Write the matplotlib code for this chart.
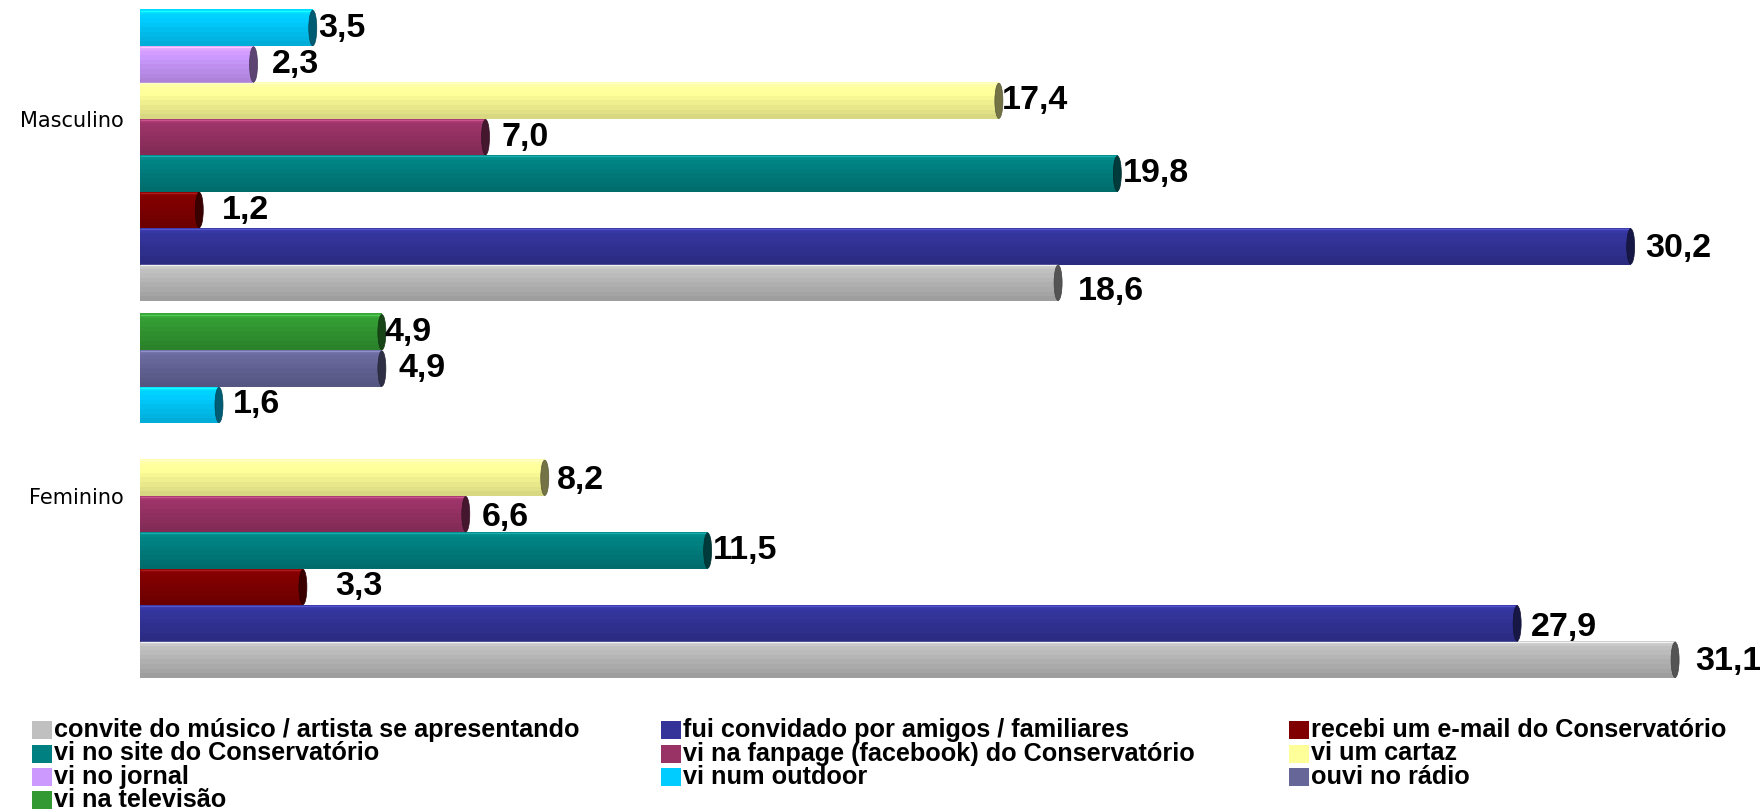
import numpy as np
import matplotlib
matplotlib.use("Agg")
import matplotlib.pyplot as plt
from matplotlib.patches import Ellipse, Rectangle
from matplotlib.colors import to_rgb

# ---------------- data ----------------
categories = ["Feminino", "Masculino"]
series = [
    "convite do músico / artista se apresentando",
    "fui convidado por amigos / familiares",
    "recebi um e-mail do Conservatório",
    "vi no site do Conservatório",
    "vi na fanpage (facebook) do Conservatório",
    "vi um cartaz",
    "vi no jornal",
    "vi num outdoor",
    "ouvi no rádio",
    "vi na televisão",
]
feminino = [31.1, 27.9, 3.3, 11.5, 6.6, 8.2, None, 1.6, 4.9, 4.9]
masculino = [18.6, 30.2, 1.2, 19.8, 7.0, 17.4, 2.3, 3.5, None, None]
values = [feminino, masculino]

colors = ["#BBBBBB", "#333399", "#800000", "#008080", "#993366",
          "#FFFF99", "#CC99FF", "#00CCFF", "#666699", "#339933"]
legend_colors = ["#C0C0C0", "#333399", "#800000", "#008080", "#993366",
                 "#FFFF99", "#CC99FF", "#00CCFF", "#666699", "#339933"]

# label offsets (pixels: gap to the right, downward shift) – styling only
label_style = [
    [(20, 2), (14, 4), (32, 0), (5, 0), (16, 3), (12, 3), (0, 0), (14, 0), (17, 0), (3, 0)],
    [(20, 9), (15, 2), (23, 0), (6, 0), (16, 0), (3, 0), (18, 0), (5, 0), (0, 0), (0, 0)],
]

# ---------------- figure ----------------
W, H, DPI = 1760, 810, 100
fig = plt.figure(figsize=(W / DPI, H / DPI), dpi=DPI)
ax_left, ax_top, ax_bottom = 140, 0, 690
ax = fig.add_axes([ax_left / W, (H - ax_bottom) / H, (W - ax_left) / W, (ax_bottom - ax_top) / H])

px_per_cat = 377.0
w = 36.4 / px_per_cat           # bar thickness in category units
px_per_unit_x = 49.36
xmax = (W - ax_left) / px_per_unit_x
cat_center_px = [496, 119]
ylim_bottom = 0 - (ax_bottom - cat_center_px[0]) / px_per_cat
ylim_top = 0 + (cat_center_px[0] - ax_top) / px_per_cat

band_factors = np.array([1.08, 1.03, 1.0, 0.97, 0.94, 0.91, 0.88, 0.85])

for ci, cat in enumerate(categories):
    for j, v in enumerate(values[ci]):
        if v is None:
            continue
        y = ci + (j - 4.5) * w
        base = np.array(to_rgb(colors[j]))
        img = np.clip(band_factors[:, None, None] * base[None, None, :], 0, 1)
        ax.barh(y, v, height=w, color=colors[j], linewidth=0, zorder=1)
        ax.imshow(img, extent=[0, v, y - w / 2, y + w / 2], aspect="auto",
                  interpolation="nearest", zorder=2)
        ax.plot([0, v], [y + w / 2 - 0.002, y + w / 2 - 0.002], color=np.clip(base * 1.15 + 0.1, 0, 1),
                lw=1, zorder=3, solid_capstyle="butt")
        cap = Ellipse((v, y), width=8 / px_per_unit_x, height=w * 0.97,
                      facecolor=base * 0.45, edgecolor=base * 0.35, lw=0.5, zorder=4)
        ax.add_patch(cap)
        gx, gy = label_style[ci][j]
        ax.annotate(f"{v:.1f}".replace(".", ","), xy=(v, y),
                    xytext=(gx * 72 / DPI, -gy * 72 / DPI), textcoords="offset points",
                    ha="left", va="center", fontsize=24.5, fontweight="bold",
                    family=["Liberation Sans", "DejaVu Sans"], color="black", zorder=5)

ax.set_xlim(0, xmax)
ax.set_ylim(ylim_bottom, ylim_top)
ax.set_yticks([0, 1])
ax.set_yticklabels(categories, fontsize=15, family=["DejaVu Sans"])
ax.tick_params(axis="y", length=0, pad=12)
ax.set_xticks([])
for s in ax.spines.values():
    s.set_visible(False)

# ---------------- legend (row-major, 3 columns) ----------------
col_x = [32, 661, 1289]
row_y = [730, 753.5, 777, 800]
for i, name in enumerate(series):
    r, c = divmod(i, 3)
    x0 = col_x[c]
    yc = row_y[r]
    fig.patches.append(Rectangle((x0 / W, (H - yc - 9) / H), 20 / W, 18 / H,
                                 transform=fig.transFigure, facecolor=legend_colors[i],
                                 edgecolor="none"))
    fig.text((x0 + 22) / W, (H - yc) / H, name, ha="left", va="center",
             fontsize=18.2, fontweight="bold", family=["Liberation Sans", "DejaVu Sans"])

fig.savefig("out.png", dpi=DPI)
